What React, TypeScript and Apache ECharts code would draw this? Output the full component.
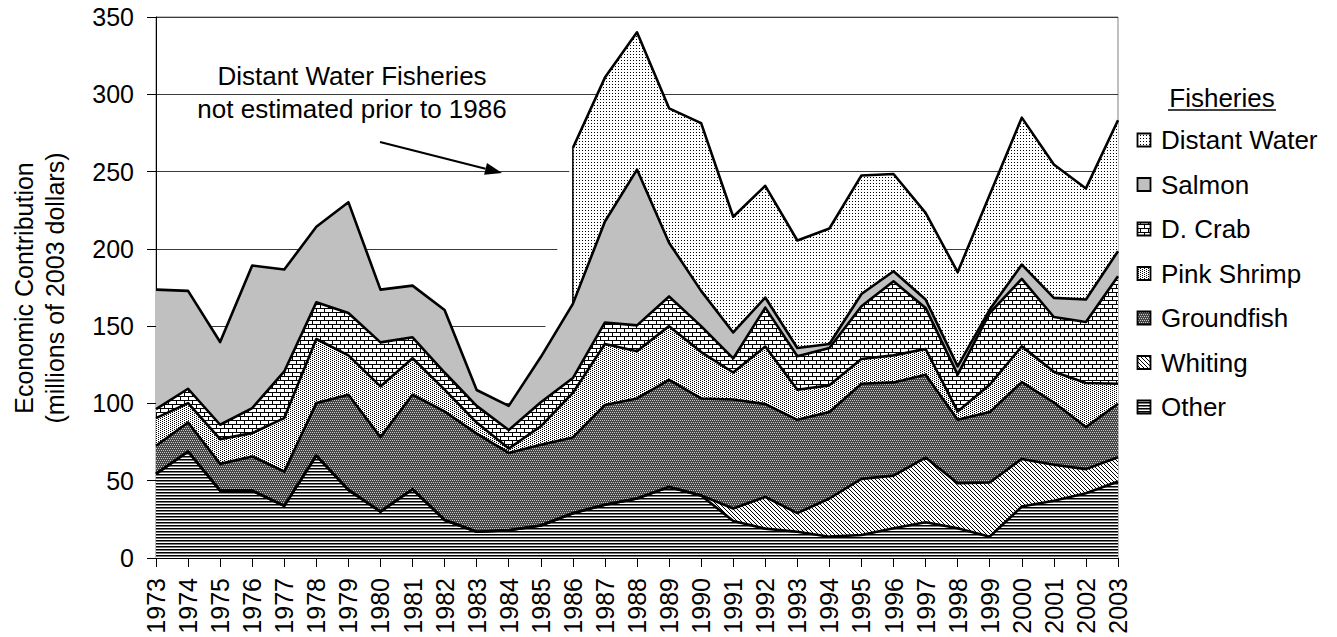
import React, { useEffect, useRef } from "react";
import * as echarts from "echarts";

// Years on the category axis
const years = [
  "1973", "1974", "1975", "1976", "1977", "1978", "1979", "1980", "1981", "1982",
  "1983", "1984", "1985", "1986", "1987", "1988", "1989", "1990", "1991", "1992",
  "1993", "1994", "1995", "1996", "1997", "1998", "1999", "2000", "2001", "2002", "2003",
];

// Economic contribution by fishery, millions of 2003 dollars (stacked bottom to top)
const other = [
  54.4, 68.9, 43.6, 43.6, 33.7, 66.3, 44.1, 30.0, 44.5, 24.6,
  17.0, 18.0, 21.0, 29.0, 34.5, 38.5, 46.0, 40.5, 24.0, 19.0,
  17.0, 13.8, 14.9, 19.2, 23.1, 19.2, 13.8, 33.3, 37.1, 41.9, 49.5,
];
const whiting = [
  0, 0, 0, 0, 0, 0, 0, 0, 0, 0,
  0, 0, 0, 0, 0, 0, 0, 0, 8.0, 20.5,
  12.0, 24.7, 36.3, 34.1, 41.9, 29.2, 35.0, 30.8, 23.2, 15.6, 15.7,
];
const groundfish = [
  18.2, 18.8, 17.3, 22.1, 22.2, 33.9, 61.5, 48.2, 61.1, 70.2,
  63.5, 50.0, 52.2, 49.0, 64.5, 64.7, 69.2, 62.7, 70.5, 60.1,
  60.4, 55.9, 61.5, 60.3, 53.6, 41.0, 45.6, 49.7, 40.3, 27.2, 34.6,
];
const pinkShrimp = [
  17.9, 12.5, 16.0, 15.1, 34.6, 41.5, 25.5, 32.8, 23.6, 14.1,
  7.1, 2.8, 12.0, 28.8, 39.5, 30.5, 34.8, 30.0, 17.5, 37.2,
  19.5, 17.3, 16.0, 17.5, 16.6, 5.4, 17.7, 23.1, 19.9, 28.5, 12.9,
];
const dCrab = [
  5.8, 9.3, 9.3, 16.2, 30.2, 23.7, 27.4, 28.5, 13.6, 11.1,
  10.8, 12.0, 15.6, 9.6, 13.9, 16.8, 19.2, 16.8, 9.1, 25.2,
  21.6, 24.2, 34.2, 47.9, 26.6, 23.8, 46.4, 43.7, 35.4, 39.5, 69.6,
];
const salmon = [
  77.3, 63.3, 53.5, 92.2, 65.9, 48.9, 71.7, 34.1, 33.4, 40.5,
  10.3, 15.6, 29.2, 48.0, 65.3, 100.8, 34.8, 22.8, 16.8, 6.5,
  5.4, 2.5, 7.9, 6.5, 5.4, 5.4, 2.2, 9.2, 12.4, 14.5, 16.2,
];
// Not estimated before 1986
const distantWater = [
  null, null, null, null, null, null, null, null, null, null,
  null, null, null, 100.8, 93.1, 88.8, 86.9, 108.5, 74.9, 72.3,
  69.5, 74.8, 76.7, 62.9, 56.1, 60.9, 74.3, 95.1, 86.3, 71.9, 84.7,
];

const fisheryNames = ["Other", "Whiting", "Groundfish", "Pink Shrimp", "D. Crab", "Salmon", "Distant Water"];
const fisheryValues = [other, whiting, groundfish, pinkShrimp, dCrab, salmon, distantWater];
const legendTitle = "Fisheries";
const yTitleLines = ["Economic Contribution", "(millions of 2003 dollars)"];
const noteLines = ["Distant Water Fisheries", "not estimated prior to 1986"];
const firstDistantYear = "1986";

const FONT = '"Liberation Sans", Arial, Helvetica, sans-serif';

type Paint = (ctx: CanvasRenderingContext2D) => void;

function tile(w: number, h: number, bg: string, paint: Paint) {
  const c = document.createElement("canvas");
  c.width = w;
  c.height = h;
  const ctx = c.getContext("2d")!;
  ctx.fillStyle = bg;
  ctx.fillRect(0, 0, w, h);
  paint(ctx);
  return { image: c, repeat: "repeat", imageWidth: w, imageHeight: h } as any;
}

function dots(color: string, cells: [number, number][]): Paint {
  return (ctx) => {
    ctx.fillStyle = color;
    cells.forEach(([x, y]) => ctx.fillRect(x, y, 1, 1));
  };
}

// Fill textures, one per fishery (same order as fisheryNames)
function makeFills() {
  const otherFill = tile(4, 3, "#ffffff", (ctx) => {
    ctx.fillStyle = "#000000";
    ctx.fillRect(0, 0, 4, 1);
    ctx.fillStyle = "#7a7a7a";
    ctx.fillRect(0, 1, 4, 1);
  });
  const whitingFill = tile(4, 4, "#ffffff", dots("#000000", [
    [0, 0], [1, 1], [2, 2], [3, 3],
  ]));
  const groundfishFill = tile(4, 4, "#454545", dots("#c8c8c8", [
    [0, 0], [2, 0], [1, 2], [3, 2],
  ]));
  const pinkFill = tile(4, 4, "#ffffff", dots("#000000", [
    [0, 0], [2, 1], [0, 2], [2, 3],
  ]));
  const crabFill = tile(8, 8, "#ffffff", (ctx) => {
    ctx.fillStyle = "#000000";
    ctx.fillRect(0, 0, 8, 1);
    ctx.fillRect(0, 4, 8, 1);
    ctx.fillRect(0, 1, 1, 3);
    ctx.fillRect(4, 5, 1, 3);
  });
  const salmonFill = "#c0c0c0";
  const distantFill = tile(3, 3, "#ffffff", dots("#000000", [[0, 0]]));
  return [otherFill, whitingFill, groundfishFill, pinkFill, crabFill, salmonFill, distantFill];
}

export default function App() {
  const ref = useRef<HTMLDivElement>(null);

  useEffect(() => {
    document.body.style.margin = "0";
    const chart = echarts.init(ref.current!, null, { renderer: "svg" });
    const fills = makeFills();

    // Areas in one stack, outlines in a parallel stack drawn above all areas
    const areaSeries = fisheryNames.map((name, i) => ({
      name,
      type: "line",
      stack: "areas",
      data: fisheryValues[i],
      symbol: "none",
      showSymbol: false,
      silent: true,
      z: 2,
      lineStyle: { width: 0, color: "#000" },
      itemStyle: { color: "#000" },
      areaStyle: { color: fills[i], opacity: 1 },
      emphasis: { disabled: true },
    }));
    const lineSeries = fisheryNames.map((name, i) => ({
      name: name + " outline",
      type: "line",
      stack: "outlines",
      data: fisheryValues[i],
      symbol: "none",
      showSymbol: false,
      silent: true,
      z: 4,
      lineStyle: { width: 2.6, color: "#000", join: "round" },
      itemStyle: { color: "#000" },
      emphasis: { disabled: true },
    }));

    chart.setOption({
      animation: false,
      backgroundColor: "#ffffff",
      textStyle: { fontFamily: FONT },
      grid: {
        left: 156,
        right: 219,
        top: 17,
        bottom: 79,
        show: true,
        borderColor: "#808080",
        borderWidth: 1,
      },
      xAxis: {
        type: "category",
        data: years,
        boundaryGap: false,
        axisLine: { lineStyle: { color: "#000", width: 1 } },
        axisTick: { show: true, interval: 0, length: 9, lineStyle: { color: "#000" } },
        axisLabel: {
          interval: 0,
          rotate: 90,
          margin: 20,
          fontSize: 25,
          color: "#000",
          fontFamily: FONT,
        },
        splitLine: { show: false },
      },
      yAxis: {
        type: "value",
        min: 0,
        max: 350,
        interval: 50,
        axisLine: { show: true, lineStyle: { color: "#000", width: 1 } },
        axisTick: { show: true, length: 9, lineStyle: { color: "#000" } },
        axisLabel: { margin: 22, fontSize: 25, color: "#000", fontFamily: FONT },
        splitLine: { show: true, lineStyle: { color: "#3a3a3a", width: 1 } },
      },
      series: [...areaSeries, ...lineSeries],
    });

    // Stack height of the first n fisheries for one year
    const stackTop = (idx: number, n: number) =>
      fisheryValues.slice(0, n).reduce((s, arr) => s + ((arr[idx] as number) || 0), 0);
    const iStart = years.indexOf(firstDistantYear);
    const iPrev = iStart - 1;
    const nBelowDistant = fisheryNames.length - 1;
    const pPrev = chart.convertToPixel({ gridIndex: 0 }, [iPrev, stackTop(iPrev, nBelowDistant)]) as number[];
    const pStartTop = chart.convertToPixel({ gridIndex: 0 }, [iStart, stackTop(iStart, fisheryNames.length)]) as number[];
    const pStartBase = chart.convertToPixel({ gridIndex: 0 }, [iStart, stackTop(iStart, nBelowDistant)]) as number[];

    // Arrow of the note
    const tail = [380, 142];
    const tip = [502, 173];
    const dx = tip[0] - tail[0];
    const dy = tip[1] - tail[1];
    const len = Math.hypot(dx, dy);
    const ux = dx / len;
    const uy = dy / len;
    const headLen = 17;
    const headHalf = 6;
    const bx = tip[0] - ux * headLen;
    const by = tip[1] - uy * headLen;

    const legendOrder = fisheryNames.map((_, i) => i).reverse();
    const legendTop = 140;
    const legendStep = 44.5;

    const graphics: any[] = [
      // blank wedge ahead of the first distant-water year
      {
        type: "polygon",
        z: 1,
        silent: true,
        shape: { points: [pPrev, pStartTop, pStartBase] },
        style: { fill: "#ffffff", stroke: "none" },
      },
      {
        type: "line",
        z: 5,
        silent: true,
        shape: { x1: pStartBase[0], y1: pStartBase[1], x2: pStartTop[0], y2: pStartTop[1] },
        style: { stroke: "#000", lineWidth: 1.5 },
      },
      // y-axis title
      ...yTitleLines.map((t, i) => ({
        type: "text",
        z: 5,
        silent: true,
        x: 24 + i * 31,
        y: 288,
        rotation: Math.PI / 2,
        style: {
          text: t,
          fontSize: 25,
          fontFamily: FONT,
          fill: "#000",
          align: "center",
          verticalAlign: "middle",
        },
      })),
      // note
      ...noteLines.map((t, i) => ({
        type: "text",
        z: 5,
        silent: true,
        x: 352,
        y: 76 + i * 33,
        style: {
          text: t,
          fontSize: 26,
          fontFamily: FONT,
          fill: "#000",
          align: "center",
          verticalAlign: "middle",
        },
      })),
      {
        type: "line",
        z: 5,
        silent: true,
        shape: { x1: tail[0], y1: tail[1], x2: bx, y2: by },
        style: { stroke: "#000", lineWidth: 2 },
      },
      {
        type: "polygon",
        z: 5,
        silent: true,
        shape: {
          points: [
            tip,
            [bx - uy * headHalf, by + ux * headHalf],
            [bx + uy * headHalf, by - ux * headHalf],
          ],
        },
        style: { fill: "#000" },
      },
      // legend
      {
        type: "text",
        z: 5,
        silent: true,
        x: 1222,
        y: 98,
        style: {
          text: legendTitle,
          fontSize: 26,
          fontFamily: FONT,
          fill: "#000",
          align: "center",
          verticalAlign: "middle",
        },
      },
      {
        type: "line",
        z: 5,
        silent: true,
        shape: { x1: 1168, y1: 110, x2: 1276, y2: 110 },
        style: { stroke: "#000", lineWidth: 1.6 },
      },
      ...legendOrder.flatMap((si, row) => {
        const cy = legendTop + row * legendStep;
        return [
          {
            type: "rect",
            z: 5,
            silent: true,
            shape: { x: 1137.5, y: cy - 6.5, width: 13, height: 13 },
            style: { fill: fills[si], stroke: "#000", lineWidth: 1.8 },
          },
          {
            type: "text",
            z: 5,
            silent: true,
            x: 1161,
            y: cy,
            style: {
              text: fisheryNames[si],
              fontSize: 26,
              fontFamily: FONT,
              fill: "#000",
              align: "left",
              verticalAlign: "middle",
            },
          },
        ];
      }),
    ];

    chart.setOption({ graphic: graphics });

    return () => {
      chart.dispose();
    };
  }, []);

  return <div ref={ref} style={{ width: 1337, height: 637 }} />;
}
